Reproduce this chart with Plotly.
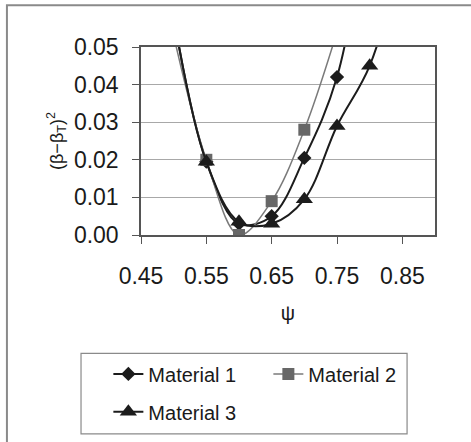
import plotly.graph_objects as go

# psi values sampled for each material (points beyond the axis range carry the
# smoothed curves out through the frame)
psi_m1 = [0.50, 0.55, 0.60, 0.65, 0.70, 0.75, 0.80]
err_m1 = [0.058, 0.0195, 0.0030, 0.0050, 0.0205, 0.0420, 0.090]

psi_m2 = [0.50, 0.55, 0.60, 0.65, 0.70, 0.75]
err_m2 = [0.053, 0.0200, 0.0000, 0.0090, 0.0280, 0.054]

psi_m3 = [0.50, 0.55, 0.60, 0.65, 0.70, 0.75, 0.80, 0.85]
err_m3 = [0.058, 0.0195, 0.0035, 0.0030, 0.0095, 0.0290, 0.0450, 0.075]

x_ticks = [0.45, 0.55, 0.65, 0.75, 0.85]
x_tick_text = ["0.45", "0.55", "0.65", "0.75", "0.85"]
y_ticks = [0.00, 0.01, 0.02, 0.03, 0.04, 0.05]
y_tick_text = ["0.00", "0.01", "0.02", "0.03", "0.04", "0.05"]

FONT = "Liberation Sans, Arial, sans-serif"
BLACK = "#1c1c1c"
GREY_LINE = "#7a7a7a"
GREY_MARK = "#676767"

fig = go.Figure()

fig.add_trace(go.Scatter(
    x=psi_m1, y=err_m1, name="Material 1", mode="lines+markers",
    line=dict(color=BLACK, width=2, shape="spline", smoothing=1),
    marker=dict(symbol="diamond", size=11, color=BLACK),
    legend="legend",
))
fig.add_trace(go.Scatter(
    x=psi_m2, y=err_m2, name="Material 2", mode="lines+markers",
    line=dict(color=GREY_LINE, width=1.5, shape="spline", smoothing=1),
    marker=dict(symbol="square", size=12, color=GREY_MARK),
    legend="legend",
))
fig.add_trace(go.Scatter(
    x=psi_m3, y=err_m3, name="Material 3", mode="lines+markers",
    line=dict(color=BLACK, width=2, shape="spline", smoothing=1),
    marker=dict(symbol="triangle-up", size=15, color=BLACK),
    legend="legend2",
))

axis_common = dict(
    showline=True, linecolor="#555555", linewidth=1.5, mirror=True,
    ticks="outside", ticklen=7, tickcolor="#555555", tickwidth=1,
    tickfont=dict(family=FONT, size=23, color="#1a1a1a"),
    zeroline=False,
)

fig.update_xaxes(
    range=[0.45, 0.90], tickmode="array", tickvals=x_ticks, ticktext=x_tick_text,
    showgrid=False, ticklabelstandoff=13,
    title=dict(text="ψ", font=dict(family=FONT, size=20, color="#1a1a1a"), standoff=18),
    **axis_common,
)
fig.update_yaxes(
    range=[0.0, 0.05], tickmode="array", tickvals=y_ticks, ticktext=y_tick_text,
    showgrid=True, gridcolor="#a8a8a8", gridwidth=1, ticklabelstandoff=9,
    title=dict(text="(β−β<sub>T</sub>)<sup>2</sup>",
               font=dict(family=FONT, size=18, color="#1a1a1a"), standoff=6),
    **axis_common,
)

legend_common = dict(
    orientation="h", xanchor="left", yanchor="middle",
    font=dict(family=FONT, size=20, color="#1a1a1a"),
    bgcolor="rgba(0,0,0,0)", borderwidth=0, entrywidth=115,
)

fig.update_layout(
    width=471, height=442,
    margin=dict(l=141, r=36, t=47, b=206),
    paper_bgcolor="white", plot_bgcolor="white",
    showlegend=True,
    legend=dict(x=-0.111, y=-0.73, **legend_common),
    legend2=dict(x=-0.111, y=-0.93, **legend_common),
    shapes=[
        # frame round the whole figure
        dict(type="rect", xref="paper", yref="paper",
             x0=-0.456, x1=1.25, y0=-1.25, y1=1.222,
             line=dict(color="#8a8a8a", width=2)),
        # box round the legend entries
        dict(type="rect", xref="paper", yref="paper",
             x0=-0.204, x1=0.905, y0=-1.058, y1=-0.630,
             line=dict(color="#8a8a8a", width=1.2)),
    ],
)

fig.write_html("out.html")
